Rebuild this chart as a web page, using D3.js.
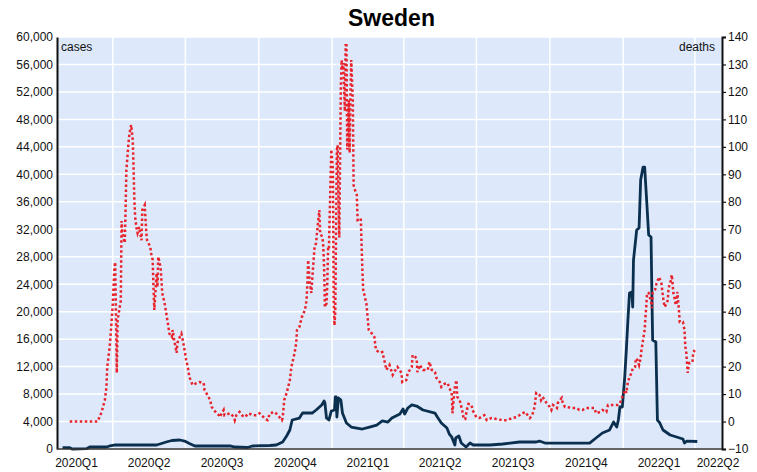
<!DOCTYPE html>
<html><head><meta charset="utf-8">
<script src="https://cdn.jsdelivr.net/npm/d3@7"></script>
<style>
body{margin:0;background:#fff}
text{font-family:"Liberation Sans",Arial,sans-serif}
</style>
</head><body>
<svg id="c" width="757" height="472"></svg>
<script>
// ---- data ----
const caseDates = ["2020-01-29","2020-02-07","2020-02-10","2020-02-28","2020-03-03","2020-03-24","2020-03-28","2020-04-03","2020-05-26","2020-05-30","2020-06-07","2020-06-14","2020-06-24","2020-06-30","2020-07-06","2020-07-13","2020-08-26","2020-09-01","2020-09-17","2020-09-23","2020-10-15","2020-10-23","2020-10-31","2020-11-05","2020-11-09","2020-11-12","2020-11-21","2020-11-25","2020-12-07","2020-12-12","2020-12-19","2020-12-22","2020-12-23","2020-12-25","2020-12-28","2020-12-31","2021-01-04","2021-01-05","2021-01-06","2021-01-07","2021-01-09","2021-01-12","2021-01-14","2021-01-19","2021-01-25","2021-02-08","2021-02-17","2021-02-26","2021-03-05","2021-03-12","2021-03-17","2021-03-27","2021-03-31","2021-04-02","2021-04-06","2021-04-11","2021-04-17","2021-04-25","2021-05-10","2021-05-13","2021-05-18","2021-05-25","2021-05-28","2021-05-31","2021-06-04","2021-06-05","2021-06-09","2021-06-12","2021-06-18","2021-06-23","2021-06-27","2021-07-18","2021-08-03","2021-08-24","2021-09-14","2021-09-18","2021-09-25","2021-11-20","2021-11-28","2021-12-06","2021-12-15","2021-12-20","2021-12-24","2021-12-26","2021-12-28","2021-12-31","2022-01-03","2022-01-05","2022-01-07","2022-01-09","2022-01-12","2022-01-13","2022-01-14","2022-01-18","2022-01-21","2022-01-23","2022-01-26","2022-01-28","2022-01-31","2022-02-02","2022-02-05","2022-02-06","2022-02-07","2022-02-11","2022-02-13","2022-02-16","2022-02-20","2022-03-01","2022-03-09","2022-03-17","2022-03-19","2022-03-22","2022-04-04"];
const caseValues = [200,200,0,50,290,290,440,580,580,730,1020,1240,1310,1160,800,440,440,290,220,440,510,580,1020,1890,2770,4220,4510,5240,5240,5680,6410,6990,6700,4510,4220,5530,5680,7570,7570,4660,7430,7130,5240,3790,3200,2910,3200,3490,4080,3930,4510,5100,5820,5100,5970,6410,6260,5680,5240,4660,3790,3060,2180,1750,580,1600,1890,870,290,870,580,580,730,1020,1020,1160,870,870,1600,2330,2770,3930,3200,4220,6120,6120,10480,14410,18780,22710,22860,20680,27520,31890,32180,39170,41060,41060,35240,31160,30870,23150,15870,15580,4220,3790,2770,2040,1750,1460,870,1160,1090];

const deathDates = ["2020-02-07","2020-03-13","2020-03-18","2020-03-22","2020-03-24","2020-03-25","2020-03-28","2020-03-30","2020-04-01","2020-04-03","2020-04-04","2020-04-06","2020-04-07","2020-04-11","2020-04-12","2020-04-13","2020-04-16","2020-04-17","2020-04-18","2020-04-21","2020-04-22","2020-04-24","2020-04-26","2020-04-27","2020-04-28","2020-04-29","2020-05-01","2020-05-02","2020-05-04","2020-05-07","2020-05-08","2020-05-11","2020-05-13","2020-05-14","2020-05-18","2020-05-19","2020-05-21","2020-05-22","2020-05-23","2020-05-26","2020-05-27","2020-05-28","2020-05-31","2020-06-01","2020-06-02","2020-06-05","2020-06-07","2020-06-09","2020-06-11","2020-06-14","2020-06-15","2020-06-17","2020-06-20","2020-06-21","2020-06-24","2020-06-26","2020-06-27","2020-06-30","2020-07-02","2020-07-04","2020-07-06","2020-07-09","2020-07-10","2020-07-15","2020-07-19","2020-07-24","2020-07-25","2020-07-30","2020-08-01","2020-08-03","2020-08-06","2020-08-09","2020-08-12","2020-08-13","2020-08-18","2020-08-19","2020-08-26","2020-08-31","2020-09-01","2020-09-03","2020-09-07","2020-09-12","2020-09-16","2020-09-18","2020-09-24","2020-09-28","2020-10-02","2020-10-08","2020-10-12","2020-10-15","2020-10-21","2020-10-25","2020-10-30","2020-10-31","2020-11-02","2020-11-05","2020-11-09","2020-11-11","2020-11-15","2020-11-17","2020-11-18","2020-11-21","2020-11-24","2020-11-28","2020-11-30","2020-12-01","2020-12-02","2020-12-04","2020-12-06","2020-12-07","2020-12-10","2020-12-12","2020-12-13","2020-12-16","2020-12-17","2020-12-20","2020-12-21","2020-12-22","2020-12-23","2020-12-25","2020-12-26","2020-12-27","2020-12-28","2020-12-31","2021-01-02","2021-01-03","2021-01-04","2021-01-05","2021-01-07","2021-01-08","2021-01-09","2021-01-10","2021-01-12","2021-01-13","2021-01-14","2021-01-15","2021-01-17","2021-01-18","2021-01-19","2021-01-20","2021-01-22","2021-01-23","2021-01-24","2021-01-25","2021-01-27","2021-01-28","2021-01-30","2021-02-01","2021-02-02","2021-02-06","2021-02-08","2021-02-09","2021-02-13","2021-02-16","2021-02-20","2021-02-23","2021-02-25","2021-03-02","2021-03-05","2021-03-08","2021-03-10","2021-03-14","2021-03-18","2021-03-23","2021-03-24","2021-03-29","2021-03-30","2021-04-04","2021-04-06","2021-04-11","2021-04-12","2021-04-17","2021-04-18","2021-04-21","2021-04-25","2021-05-01","2021-05-03","2021-05-06","2021-05-10","2021-05-12","2021-05-16","2021-05-18","2021-05-22","2021-05-26","2021-05-28","2021-05-31","2021-06-01","2021-06-02","2021-06-04","2021-06-06","2021-06-07","2021-06-10","2021-06-14","2021-06-15","2021-06-17","2021-06-19","2021-06-21","2021-06-25","2021-06-26","2021-07-01","2021-07-05","2021-07-11","2021-07-14","2021-07-20","2021-07-26","2021-08-02","2021-08-09","2021-08-15","2021-08-20","2021-08-24","2021-08-31","2021-09-06","2021-09-09","2021-09-12","2021-09-14","2021-09-18","2021-09-20","2021-09-22","2021-09-27","2021-10-01","2021-10-03","2021-10-05","2021-10-10","2021-10-11","2021-10-16","2021-10-17","2021-10-20","2021-10-23","2021-10-28","2021-11-04","2021-11-07","2021-11-11","2021-11-16","2021-11-20","2021-11-26","2021-11-28","2021-12-03","2021-12-06","2021-12-11","2021-12-13","2021-12-19","2021-12-25","2021-12-28","2021-12-31","2022-01-02","2022-01-04","2022-01-05","2022-01-07","2022-01-09","2022-01-12","2022-01-13","2022-01-16","2022-01-17","2022-01-19","2022-01-21","2022-01-23","2022-01-24","2022-01-26","2022-01-28","2022-01-29","2022-01-30","2022-01-31","2022-02-02","2022-02-05","2022-02-06","2022-02-07","2022-02-10","2022-02-12","2022-02-15","2022-02-18","2022-02-20","2022-02-22","2022-02-25","2022-02-26","2022-02-27","2022-03-02","2022-03-03","2022-03-04","2022-03-05","2022-03-07","2022-03-08","2022-03-09","2022-03-10","2022-03-12","2022-03-13","2022-03-17","2022-03-19","2022-03-20","2022-03-21","2022-03-22","2022-03-23","2022-03-24","2022-03-25","2022-03-29","2022-03-30","2022-04-01"];
const deathValues = [0,0,3.5,7.8,12.6,19.9,27,34.4,43,56,58,17.7,37,44,73,68.6,65,77,91.6,102.5,105,108,102.5,92.7,80.7,74.5,69.7,68.6,70.8,66,77,78.8,68.6,66,63.5,61.3,58.8,49,40.6,54,49,60,56,51.5,46.8,43,39.5,35.8,32,30.8,33.3,29.7,25,28.6,30.8,32,30.8,26,22.4,19.9,16.2,14,13.3,14,14.4,14,11.5,9,7.8,5.3,4.2,3,2.3,1.6,4.2,2.3,3,1.6,0.5,2.3,3.5,1.6,2.3,3,2.3,2.3,3,1.3,0.5,3,3.5,2.3,0.5,1.3,7.8,10.4,15,19.9,25,28.6,33.3,34.4,38,40.6,44.2,50.4,58.8,50.4,46.8,51.5,63.5,65,68.6,77,68.6,67,63.5,56,41.7,43,50.4,63.5,63,99,92,44,35,40,99,100.6,80.7,67,122.5,131.6,128,130.5,113,137,137,99,117,97.8,118,131.6,117,86,84,82.5,73.4,74,55,48,43,33.3,32,30.8,26,25,25.3,21.7,18.8,20.6,17,19.5,19.9,17.7,14.4,15.1,17.7,19.9,24.2,23.1,18,20.6,18.8,18.8,21.7,18.8,18,15.8,14.4,12.6,13.7,14,12.2,10.4,3,6.7,12.6,15.1,9,7.8,3,0.9,0.9,4.2,6.4,6,4.2,1.6,1.3,2.3,0.5,1.3,0.9,0.5,0.5,1.3,1.6,2.3,3.5,1.3,2.3,5.3,10.4,9.7,7.8,9,6.7,5.3,4.2,6,4.9,6.7,8.6,7.1,5.3,5.3,4.9,4.9,4.2,4.2,4.9,4.9,4.9,3,3.5,4.2,3.5,6,6,6,6.7,9,10.4,11.5,10.4,14.4,16.2,18,19.5,19.9,23,22.4,20.6,23.1,26,29.7,33.3,38,41.7,46.8,46.8,43.5,41.3,46.8,47.9,50.4,52.6,50.4,45.4,41.7,43.2,44.2,48.6,51.5,53.4,50.4,46.8,44.2,42.4,43.2,47.2,40.6,36.2,36.2,33.3,27.1,26,21.7,17.7,19.9,21.3,21.7,25.3,26];

const quarterLabels = ["2020Q1","2020Q2","2020Q3","2020Q4","2021Q1","2021Q2","2021Q3","2021Q4","2022Q1","2022Q2"];
const quarterStarts = ["2020-01-01","2020-04-01","2020-07-01","2020-10-01","2021-01-01","2021-04-01","2021-07-01","2021-10-01","2022-01-01","2022-04-01","2022-07-01"];
const leftTicks = [0,4000,8000,12000,16000,20000,24000,28000,32000,36000,40000,44000,48000,52000,56000,60000];
const rightTicks = [-10,0,10,20,30,40,50,60,70,80,90,100,110,120,130,140];
const chartTitle = "Sweden";
const leftName = "cases", rightName = "deaths";

// ---- drawing ----
const M = {left:57, right:722, top:37, bottom:449};
const parse = d3.utcParse("%Y-%m-%d");
const svg = d3.select("#c");

const x = d3.scaleUtc().domain([parse("2020-01-22"), parse("2022-05-05")]).range([M.left, M.right]);
const yL = d3.scaleLinear().domain([0, 60000]).range([M.bottom, M.top]);
const yR = d3.scaleLinear().domain([-10, 140]).range([M.bottom, M.top]);

svg.append("rect").attr("x",M.left).attr("y",M.top).attr("width",M.right-M.left).attr("height",M.bottom-M.top).attr("fill","#dde9fb");

// gridlines
svg.append("g").selectAll("line").data(leftTicks).join("line")
  .attr("x1",M.left).attr("x2",M.right).attr("y1",d=>yL(d)).attr("y2",d=>yL(d))
  .attr("stroke","#fff").attr("stroke-width",1.5);
const qs = quarterStarts.map(parse);
svg.append("g").selectAll("line").data(qs.filter(d=>x(d)>M.left && x(d)<M.right)).join("line")
  .attr("x1",d=>x(d)).attr("x2",d=>x(d)).attr("y1",M.top).attr("y2",M.bottom)
  .attr("stroke","#fff").attr("stroke-width",1.5);

// series
const cases = caseDates.map((d,i)=>({date:parse(d), v:caseValues[i]}));
const deaths = deathDates.map((d,i)=>({date:parse(d), v:deathValues[i]}));

svg.append("path").datum(cases)
  .attr("d", d3.line().x(d=>x(d.date)).y(d=>yL(d.v)))
  .attr("fill","none").attr("stroke","#0b2f4e").attr("stroke-width",2.8).attr("stroke-linejoin","round");

svg.append("path").datum(deaths)
  .attr("d", d3.line().x(d=>x(d.date)).y(d=>yR(d.v)))
  .attr("fill","none").attr("stroke","#e8232b").attr("stroke-width",2.5).attr("stroke-dasharray","2.5,2.5");

// axes
const gL = svg.append("g").attr("transform",`translate(${M.left},0)`)
  .call(d3.axisLeft(yL).tickValues(leftTicks).tickSize(0).tickPadding(4).tickFormat(d3.format(",")));
gL.select(".domain").attr("stroke","#111").attr("stroke-width",2);
gL.selectAll("text").attr("font-size",12).attr("fill","#111").style("font-family",'"Liberation Sans",Arial,sans-serif');

const gR = svg.append("g").attr("transform",`translate(${M.right},0)`)
  .call(d3.axisRight(yR).tickValues(rightTicks).tickSizeInner(4).tickSizeOuter(4).tickPadding(2));
gR.select(".domain").attr("stroke","#111").attr("stroke-width",2);
gR.selectAll("line").attr("stroke","#111").attr("stroke-width",1.2);
gR.selectAll("text").attr("font-size",12).attr("fill","#111").style("font-family",'"Liberation Sans",Arial,sans-serif');

svg.append("line").attr("x1",M.left).attr("x2",M.right).attr("y1",M.bottom).attr("y2",M.bottom)
  .attr("stroke","#333").attr("stroke-width",1.5);

// quarter labels at mid-quarter
svg.append("g").selectAll("text").data(quarterLabels).join("text")
  .attr("x",(d,i)=>Math.min(x(new Date((qs[i].getTime()+qs[i+1].getTime())/2)), M.right-4))
  .attr("y",467).attr("text-anchor","middle").attr("font-size",12).attr("fill","#111")
  .text(d=>d);

// title and axis names
svg.append("text").attr("x",(M.left+M.right)/2+2).attr("y",26).attr("text-anchor","middle")
  .attr("font-size",23).attr("font-weight","bold").attr("fill","#000").text(chartTitle);
svg.append("text").attr("x",M.left+4).attr("y",51).attr("font-size",12).attr("fill","#111").text(leftName);
svg.append("text").attr("x",M.right-7).attr("y",51).attr("text-anchor","end").attr("font-size",12).attr("fill","#111").text(rightName);
</script>
</body></html>
